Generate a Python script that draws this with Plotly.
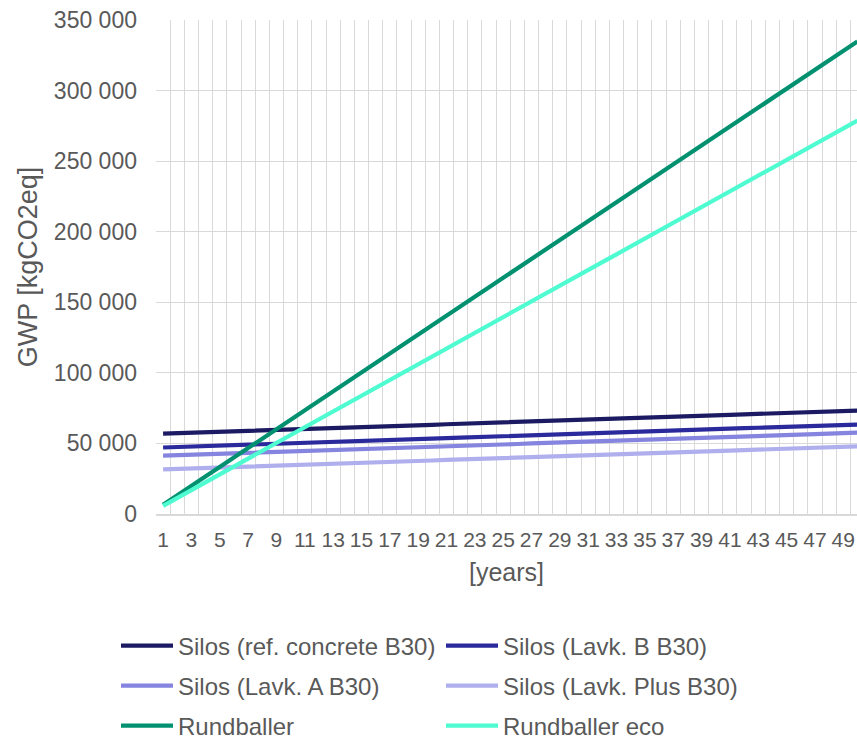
import plotly.graph_objects as go

# Years on the category axis
years = list(range(1, 51))

# Cumulative GWP [kgCO2eq] per scenario
silos_ref = [
    56900, 57200, 57600, 57900, 58200, 58600, 58900, 59200, 59600, 59900,
    60200, 60600, 60900, 61200, 61600, 61900, 62200, 62600, 62900, 63200,
    63600, 63900, 64200, 64600, 64900, 65200, 65600, 65900, 66200, 66600,
    66900, 67200, 67600, 67900, 68200, 68600, 68900, 69200, 69600, 69900,
    70200, 70600, 70900, 71200, 71600, 71900, 72200, 72600, 72900, 73200,
]
silos_lavk_b = [
    47100, 47400, 47800, 48100, 48400, 48800, 49100, 49400, 49800, 50100,
    50400, 50800, 51100, 51400, 51800, 52100, 52400, 52800, 53100, 53400,
    53800, 54100, 54400, 54800, 55100, 55400, 55800, 56100, 56400, 56800,
    57100, 57400, 57800, 58100, 58400, 58800, 59100, 59400, 59800, 60100,
    60400, 60800, 61100, 61400, 61800, 62100, 62400, 62800, 63100, 63400,
]
silos_lavk_a = [
    41300, 41600, 42000, 42300, 42600, 43000, 43300, 43600, 44000, 44300,
    44600, 45000, 45300, 45600, 46000, 46300, 46600, 47000, 47300, 47600,
    48000, 48300, 48600, 49000, 49300, 49600, 50000, 50300, 50600, 51000,
    51300, 51600, 52000, 52300, 52600, 53000, 53300, 53600, 54000, 54300,
    54600, 55000, 55300, 55600, 56000, 56300, 56600, 57000, 57300, 57600,
]
silos_lavk_plus = [
    31600, 31900, 32300, 32600, 32900, 33300, 33600, 33900, 34300, 34600,
    34900, 35300, 35600, 35900, 36300, 36600, 36900, 37300, 37600, 37900,
    38300, 38600, 38900, 39300, 39600, 39900, 40300, 40600, 40900, 41300,
    41600, 41900, 42300, 42600, 42900, 43300, 43600, 43900, 44300, 44600,
    44900, 45300, 45600, 45900, 46300, 46600, 46900, 47300, 47600, 47900,
]
rundballer = [
    6500, 13200, 19900, 26600, 33300, 40000, 46700, 53400, 60100, 66800,
    73500, 80200, 86900, 93600, 100300, 107000, 113700, 120400, 127100, 133800,
    140500, 147200, 153900, 160600, 167300, 174000, 180700, 187400, 194100, 200800,
    207500, 214200, 220900, 227600, 234300, 241000, 247700, 254400, 261100, 267800,
    274500, 281200, 287900, 294600, 301300, 308000, 314700, 321400, 328100, 334800,
]
rundballer_eco = [
    5800, 11400, 16900, 22500, 28100, 33700, 39200, 44800, 50400, 55900,
    61500, 67100, 72600, 78200, 83800, 89400, 94900, 100500, 106100, 111600,
    117200, 122800, 128300, 133900, 139500, 145100, 150600, 156200, 161800, 167300,
    172900, 178500, 184000, 189600, 195200, 200800, 206300, 211900, 217500, 223000,
    228600, 234200, 239700, 245300, 250900, 256500, 262000, 267600, 273200, 278700,
]

series_names = [
    "Silos (ref. concrete B30)",
    "Silos (Lavk. B B30)",
    "Silos (Lavk. A B30)",
    "Silos (Lavk. Plus B30)",
    "Rundballer",
    "Rundballer eco",
]
series_values = [silos_ref, silos_lavk_b, silos_lavk_a, silos_lavk_plus,
                 rundballer, rundballer_eco]
series_colors = ["#1b1a62", "#2b2a9c", "#8584df", "#b0afee", "#019170", "#4ffbd0"]
series_legends = ["legend", "legend", "legend2", "legend2", "legend3", "legend3"]

y_ticks = list(range(0, 350001, 50000))
x_ticks = list(range(1, 50, 2))
x_bounds = [y - 0.5 for y in range(1, 52)]

TEXT = "#595959"
GRID = "#d9d9d9"
FONT = "Liberation Sans, Arial, sans-serif"

fig = go.Figure()
for name, vals, color, lg in zip(series_names, series_values, series_colors, series_legends):
    fig.add_trace(go.Scatter(
        x=years, y=vals, name=name, mode="lines",
        line=dict(color=color, width=4.2),
        legend=lg,
    ))

W, H = 857, 739


def legend_row(y_px):
    return dict(
        orientation="h",
        xref="container", yref="container",
        x=116 / W, xanchor="left",
        y=(H - y_px) / H, yanchor="middle",
        entrywidth=258, entrywidthmode="pixels",
        itemwidth=52,
        font=dict(family=FONT, size=24, color=TEXT),
        bgcolor="rgba(0,0,0,0)",
        borderwidth=0,
    )


fig.update_layout(
    width=W, height=H,
    margin=dict(l=156, r=0, t=20, b=225),
    paper_bgcolor="white", plot_bgcolor="white",
    separators=". ",
    font=dict(family=FONT, color=TEXT),
    legend=legend_row(646),
    legend2=legend_row(686),
    legend3=legend_row(726),
    xaxis=dict(
        range=[0.5, 49.97],
        tickmode="array", tickvals=x_ticks,
        ticktext=[str(v) for v in x_ticks],
        tickangle=0,
        showgrid=False, zeroline=False,
        ticks="", ticklabelstandoff=6,
        tickfont=dict(family=FONT, size=21, color=TEXT),
        showline=True, linecolor=GRID, linewidth=1.5,
        minor=dict(tickmode="array", tickvals=x_bounds, showgrid=True,
                   gridcolor=GRID, gridwidth=1.3, ticks=""),
        title=dict(text="[years]", font=dict(family=FONT, size=25, color=TEXT),
                   standoff=14),
    ),
    yaxis=dict(
        range=[0, 350000],
        tickmode="array", tickvals=y_ticks,
        tickformat=",d",
        showgrid=True, gridcolor=GRID, gridwidth=1.3,
        zeroline=False, ticks="", ticklabelstandoff=18,
        tickfont=dict(family=FONT, size=23, color=TEXT),
        title=dict(text="GWP [kgCO2eq]", font=dict(family=FONT, size=27, color=TEXT),
                   standoff=8),
    ),
)

fig.write_html("out.html")
